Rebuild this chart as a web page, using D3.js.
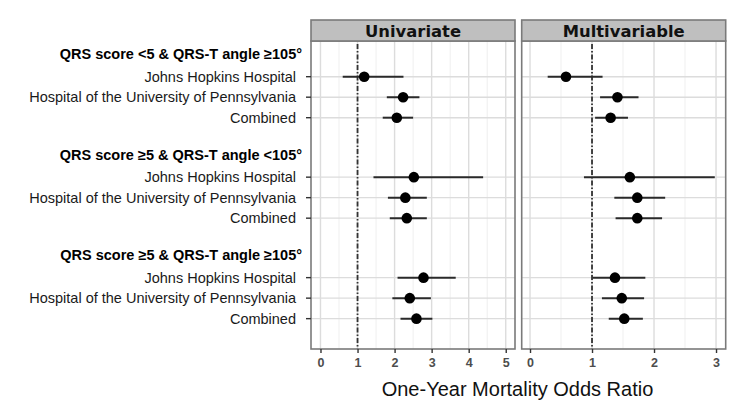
<!DOCTYPE html>
<html>
<head>
<meta charset="utf-8">
<script src="https://cdn.jsdelivr.net/npm/d3@7"></script>
<style>
  html, body { margin: 0; padding: 0; background: #fff; }
  svg { display: block; }
</style>
</head>
<body>
<svg id="chart" width="750" height="414"></svg>
<script>
// ---------- data ----------
const groups = [
  "QRS score <5 & QRS-T angle \u2265105\u00b0",
  "QRS score \u22655 & QRS-T angle <105\u00b0",
  "QRS score \u22655 & QRS-T angle \u2265105\u00b0"
];
const sites = ["Johns Hopkins Hospital", "Hospital of the University of Pennsylvania", "Combined"];
const panels = ["Univariate", "Multivariable"];

// odds ratios, row order: group1 (JHH, Penn, Combined), group2 ..., group3 ...
const uniOR    = [1.18, 2.23, 2.06, 2.52, 2.29, 2.33, 2.78, 2.41, 2.59];
const uniLow   = [0.60, 1.79, 1.68, 1.43, 1.82, 1.87, 2.08, 1.94, 2.16];
const uniHigh  = [2.24, 2.67, 2.50, 4.39, 2.87, 2.87, 3.65, 2.98, 3.02];
const multOR   = [0.58, 1.41, 1.30, 1.61, 1.73, 1.73, 1.37, 1.48, 1.52];
const multLow  = [0.285, 1.13, 1.05, 0.87, 1.36, 1.38, 1.01, 1.16, 1.27];
const multHigh = [1.17, 1.75, 1.58, 2.98, 2.18, 2.13, 1.86, 1.84, 1.82];

const uniTicks  = [0, 1, 2, 3, 4, 5];
const multTicks = [0, 1, 2, 3];
const uniLimits  = [-0.256, 5.25];
const multLimits = [-0.134, 3.156];
const refValue = 1;
const xTitle = "One-Year Mortality Odds Ratio";

// ---------- layout ----------
const svg = d3.select("#chart");
const font = "'Liberation Sans', Arial, Helvetica, sans-serif";
const plotTop = 41, plotBottom = 349, stripTop = 20;
const groupStride = 4.9;
const slotOf = (g, k) => g * groupStride + k;
const y = d3.scaleLinear().domain([-1.74, 13.28]).range([plotTop, plotBottom]);

const panelDefs = [
  { name: panels[0], x0: 311, x1: 515, domain: uniLimits, ticks: uniTicks,
    or: uniOR, lo: uniLow, hi: uniHigh },
  { name: panels[1], x0: 521.7, x1: 725.7, domain: multLimits, ticks: multTicks,
    or: multOR, lo: multLow, hi: multHigh }
];

const rows = [];
groups.forEach((g, gi) => sites.forEach((s, si) => rows.push({ gi, si, slot: slotOf(gi, si) })));

panelDefs.forEach(p => {
  const x = d3.scaleLinear().domain(p.domain).range([p.x0, p.x1]);
  const g = svg.append("g");

  g.append("rect").attr("x", p.x0).attr("y", plotTop).attr("width", p.x1 - p.x0)
    .attr("height", plotBottom - plotTop).attr("fill", "#fff");

  const minor = d3.range(Math.ceil(p.domain[0] * 2) / 2, p.domain[1], 0.5).filter(v => Math.abs(v % 1) > 0.01);
  g.selectAll(".minor").data(minor).join("line")
    .attr("x1", d => x(d)).attr("x2", d => x(d))
    .attr("y1", plotTop).attr("y2", plotBottom)
    .attr("stroke", "#efefef").attr("stroke-width", 1);
  g.selectAll(".major").data(p.ticks).join("line")
    .attr("x1", d => x(d)).attr("x2", d => x(d))
    .attr("y1", plotTop).attr("y2", plotBottom)
    .attr("stroke", "#dcdcdc").attr("stroke-width", 1.4);
  g.selectAll(".hgrid").data(rows).join("line")
    .attr("x1", p.x0).attr("x2", p.x1)
    .attr("y1", d => y(d.slot)).attr("y2", d => y(d.slot))
    .attr("stroke", "#dcdcdc").attr("stroke-width", 1.4);

  g.append("line").attr("x1", x(refValue)).attr("x2", x(refValue))
    .attr("y1", plotTop + 3).attr("y2", plotBottom)
    .attr("stroke", "#333").attr("stroke-width", 1.8)
    .attr("stroke-dasharray", "5,2,1.5,2");

  g.selectAll(".ci").data(rows).join("line")
    .attr("x1", (d, i) => x(p.lo[i])).attr("x2", (d, i) => x(p.hi[i]))
    .attr("y1", d => y(d.slot)).attr("y2", d => y(d.slot))
    .attr("stroke", "#2a2a2a").attr("stroke-width", 2);
  g.selectAll(".pt").data(rows).join("circle")
    .attr("cx", (d, i) => x(p.or[i])).attr("cy", d => y(d.slot))
    .attr("r", 5.3).attr("fill", "#000");

  g.append("rect").attr("x", p.x0).attr("y", plotTop).attr("width", p.x1 - p.x0)
    .attr("height", plotBottom - plotTop).attr("fill", "none")
    .attr("stroke", "#7a7a7a").attr("stroke-width", 1.6);

  g.append("rect").attr("x", p.x0).attr("y", stripTop).attr("width", p.x1 - p.x0)
    .attr("height", plotTop - stripTop).attr("fill", "#bfbfbf")
    .attr("stroke", "#7a7a7a").attr("stroke-width", 1.6);
  g.append("text").attr("x", (p.x0 + p.x1) / 2).attr("y", 36.5)
    .attr("text-anchor", "middle").attr("font-family", "'DejaVu Sans', Verdana, sans-serif")
    .attr("font-weight", "bold").attr("font-size", 16.4).attr("fill", "#111")
    .text(p.name);

  const ax = svg.append("g").attr("transform", `translate(0,${plotBottom})`)
    .call(d3.axisBottom(x).tickValues(p.ticks).tickFormat(d3.format("d")).tickSize(4).tickPadding(5));
  ax.select(".domain").remove();
  ax.selectAll(".tick line").attr("stroke", "#333").attr("stroke-width", 1.4);
  ax.selectAll(".tick text").attr("font-family", font).attr("font-size", 12.5)
    .attr("fill", "#4d4d4d").attr("font-weight", "bold");
});

const yAxisX = panelDefs[0].x0;
svg.append("g").selectAll("line").data(rows).join("line")
  .attr("x1", yAxisX - 5).attr("x2", yAxisX)
  .attr("y1", d => y(d.slot)).attr("y2", d => y(d.slot))
  .attr("stroke", "#333").attr("stroke-width", 1.4);
svg.append("g").selectAll("text").data(rows).join("text")
  .attr("x", 296).attr("y", d => y(d.slot)).attr("dy", "0.35em")
  .attr("text-anchor", "end").attr("font-family", font).attr("font-size", 14.5)
  .attr("fill", "#1a1a1a").text(d => sites[d.si]);
svg.append("g").selectAll("text").data(groups).join("text")
  .attr("x", 302).attr("y", (d, i) => y(slotOf(i, -1)) - 2).attr("dy", "0.35em")
  .attr("text-anchor", "end").attr("font-family", font).attr("font-size", 14.5)
  .attr("font-weight", "bold").attr("fill", "#000").text(d => d);

svg.append("text").attr("x", 517.5).attr("y", 396)
  .attr("text-anchor", "middle").attr("font-family", font).attr("font-size", 20)
  .attr("fill", "#111").text(xTitle);
</script>
</body>
</html>
